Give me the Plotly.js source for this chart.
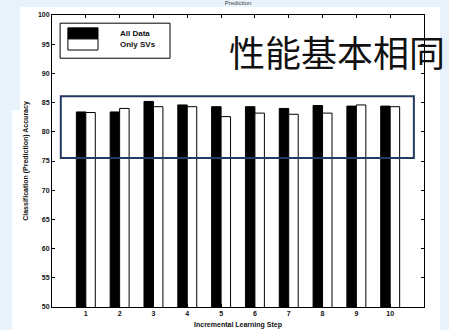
<!DOCTYPE html>
<html>
<head>
<meta charset="utf-8">
<script src="https://cdn.plot.ly/plotly-3.0.1.min.js"></script>
<style>
  html, body { margin: 0; padding: 0; width: 449px; height: 330px; overflow: hidden; background: #e8f2fb; }
  #paper1 { position: absolute; left: 20px; top: 7px; width: 420px; height: 323px; background: #ffffff; }
  #paper2 { position: absolute; left: 12px; top: 110px; width: 20px; height: 220px; background: #ffffff; }
  #chart { position: absolute; left: 0; top: 0; width: 449px; height: 330px; }
  #caption { position: absolute; left: 229px; top: 29px; font-family: "Noto Sans CJK SC", sans-serif; font-size: 36px; line-height: 44px; color: #111; white-space: nowrap; }
</style>
</head>
<body>
<div id="paper1"></div>
<div id="paper2"></div>
<div id="chart"></div>
<div id="caption">性能基本相同</div>
<script>
// ---- data ----
const steps = [1, 2, 3, 4, 5, 6, 7, 8, 9, 10];
const allData = [83.4, 83.4, 85.2, 84.6, 84.3, 84.3, 84.0, 84.5, 84.4, 84.4];
const onlySVs = [83.3, 84.0, 84.3, 84.3, 82.6, 83.2, 83.0, 83.2, 84.6, 84.3];
const seriesNames = ["All Data", "Only SVs"];
const yTicks = [50, 55, 60, 65, 70, 75, 80, 85, 90, 95, 100];
const xTitle = "Incremental Learning Step";
const yTitle = "Classification (Prediction) Accuracy";
const topTitle = "Prediction";

const tickFont = { family: "Liberation Sans, Arial, sans-serif", size: 7, color: "#111", weight: "bold" };

const traces = [
  { type: "bar", x: steps, y: allData, name: seriesNames[0], base: 0,
    marker: { color: "#000", line: { color: "#000", width: 1 } }, showlegend: false },
  { type: "bar", x: steps, y: onlySVs, name: seriesNames[1], base: 0,
    marker: { color: "#fff", line: { color: "#000", width: 1 } }, showlegend: false }
];

const layout = {
  width: 449, height: 330,
  margin: { l: 52, r: 25, t: 15, b: 23 },
  paper_bgcolor: "rgba(0,0,0,0)",
  plot_bgcolor: "#fff",
  barmode: "group",
  bargap: 0.44,
  bargroupgap: 0,
  title: { text: topTitle, font: { family: "Liberation Sans, Arial", size: 6, color: "#444" }, x: 0.53, xanchor: "center", y: 0.997, yref: "container", yanchor: "top" },
  xaxis: {
    range: [0, 11], tickvals: steps, ticktext: steps.map(String),
    ticks: "inside", ticklen: 3, tickcolor: "#000", showline: true, linecolor: "#000", linewidth: 1, mirror: "ticks",
    showgrid: false, zeroline: false, tickfont: tickFont,
    title: { text: xTitle, font: tickFont, standoff: 5 }
  },
  yaxis: {
    range: [50, 100], tickvals: yTicks, ticktext: yTicks.map(String),
    ticks: "inside", ticklen: 3, tickcolor: "#000", showline: true, linecolor: "#000", linewidth: 1, mirror: "ticks",
    showgrid: false, zeroline: false, tickfont: tickFont,
    title: { text: yTitle, font: tickFont, standoff: 8 }
  },
  shapes: [
    // legend box
    { type: "rect", xref: "x", yref: "y", x0: 0.24, x1: 3.49, y0: 92.6, y1: 98.6, line: { color: "#000", width: 1 }, fillcolor: "#fff", layer: "above" },
    { type: "rect", xref: "x", yref: "y", x0: 0.47, x1: 1.36, y0: 95.9, y1: 97.8, line: { color: "#000", width: 1 }, fillcolor: "#000", layer: "above" },
    { type: "rect", xref: "x", yref: "y", x0: 0.47, x1: 1.36, y0: 94.0, y1: 95.9, line: { color: "#000", width: 1 }, fillcolor: "#fff", layer: "above" },
    // highlight frame
    { type: "rect", xref: "x", yref: "y", x0: 0.26, x1: 10.7, y0: 75.5, y1: 86.1, line: { color: "#243a63", width: 2 }, fillcolor: "rgba(0,0,0,0)", layer: "above" }
  ],
  annotations: [
    { xref: "x", yref: "y", x: 1.95, y: 96.85, text: seriesNames[0], showarrow: false, xanchor: "left", yanchor: "middle", font: { family: "Liberation Sans, Arial", size: 8, color: "#111", weight: "bold" } },
    { xref: "x", yref: "y", x: 1.95, y: 94.95, text: seriesNames[1], showarrow: false, xanchor: "left", yanchor: "middle", font: { family: "Liberation Sans, Arial", size: 8, color: "#111", weight: "bold" } }
  ]
};

Plotly.newPlot("chart", traces, layout, { staticPlot: true, displayModeBar: false });
</script>
</body>
</html>
